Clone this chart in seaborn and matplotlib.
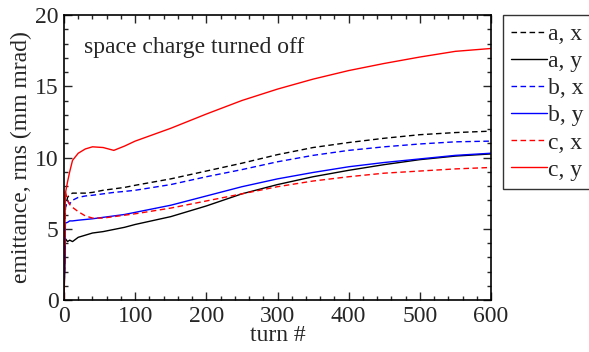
import numpy as np
import pandas as pd
import matplotlib
matplotlib.use("Agg")
import matplotlib.pyplot as plt
import seaborn as sns
from matplotlib.ticker import MultipleLocator

sns.set_theme(style="ticks")
plt.rcParams['font.family'] = ['Liberation Serif', 'DejaVu Serif']

turns = [0, 2, 5, 8, 12, 20, 30, 40, 55, 70, 85, 100, 150, 200, 250, 300, 350, 400, 450, 500, 550, 600]

a_x = [0, 6.5, 7.2, 7.4, 7.5, 7.5, 7.5, 7.55, 7.7, 7.8, 7.9, 8.05, 8.5, 9.05, 9.6, 10.2, 10.7, 11.05, 11.35, 11.6, 11.75, 11.85]
a_y = [0, 4.3, 4.1, 4.2, 4.1, 4.4, 4.55, 4.7, 4.8, 4.95, 5.1, 5.3, 5.85, 6.6, 7.45, 8.1, 8.65, 9.1, 9.5, 9.85, 10.1, 10.25]
b_x = [0, 6.5, 6.95, 6.75, 7.0, 7.2, 7.3, 7.35, 7.45, 7.55, 7.62, 7.7, 8.1, 8.65, 9.15, 9.7, 10.15, 10.5, 10.75, 10.95, 11.1, 11.15]
b_y = [0, 5.4, 5.45, 5.55, 5.55, 5.6, 5.65, 5.7, 5.8, 5.9, 6.0, 6.15, 6.65, 7.3, 7.95, 8.5, 8.95, 9.35, 9.65, 9.9, 10.15, 10.3]
c_x = [0, 7.6, 7.0, 6.7, 6.5, 6.2, 5.9, 5.75, 5.75, 5.85, 5.95, 6.05, 6.45, 6.95, 7.45, 7.95, 8.35, 8.65, 8.9, 9.05, 9.2, 9.3]
c_y = [0, 7.5, 8.3, 9.0, 9.8, 10.3, 10.6, 10.75, 10.7, 10.5, 10.8, 11.15, 12.05, 13.05, 14.0, 14.8, 15.5, 16.1, 16.6, 17.05, 17.45, 17.65]

series = [
    ("a, x", a_x, "black", (4, 2.5)),
    ("a, y", a_y, "black", None),
    ("b, x", b_x, "blue", (4, 2.5)),
    ("b, y", b_y, "blue", None),
    ("c, x", c_x, "red", (4, 2.5)),
    ("c, y", c_y, "red", None),
]

FS = 17

fig = plt.figure(figsize=(5.89, 3.52), dpi=100)
ax = fig.add_axes([64/589, 1-300/352, 427/589, 285/352])

for label, vals, color, dash in series:
    df = pd.DataFrame({"turn": turns, "emit": vals})
    sns.lineplot(data=df, x="turn", y="emit", ax=ax, color=color, lw=1.0,
                 estimator=None, sort=False, label=label)
    line = ax.get_lines()[-1]
    if dash is not None:
        line.set_dashes(dash)

ax.set_xlim(0, 600)
ax.set_ylim(0, 20)
ax.xaxis.set_major_locator(MultipleLocator(100))
ax.xaxis.set_minor_locator(MultipleLocator(20))
ax.yaxis.set_major_locator(MultipleLocator(5))
ax.yaxis.set_minor_locator(MultipleLocator(1))
ax.tick_params(which="both", direction="in", top=True, right=True, labelsize=FS)
ax.tick_params(axis="x", pad=4)
ax.tick_params(axis="y", pad=4)
ax.tick_params(which="major", length=6, width=1)
ax.tick_params(which="minor", length=3, width=1)
for s in ax.spines.values():
    s.set_linewidth(1.2)
    s.set_color("black")

ax.set_xlabel("turn #", fontsize=FS, labelpad=-1)
ax.set_ylabel("emittance, rms (mm mrad)", fontsize=FS, labelpad=2)
ax.text(28, 17.35, "space charge turned off", fontsize=FS, va="baseline")

leg = ax.legend(loc="upper left", bbox_to_anchor=(503/589, 1-15/352),
                bbox_transform=fig.transFigure, fontsize=FS, frameon=True,
                fancybox=False, borderaxespad=0, handlelength=1.5,
                handletextpad=0.05, labelspacing=0.24, borderpad=0.35)
leg.get_frame().set_edgecolor("black")
leg.get_frame().set_linewidth(1.0)

fig.savefig("out.png", dpi=100)
